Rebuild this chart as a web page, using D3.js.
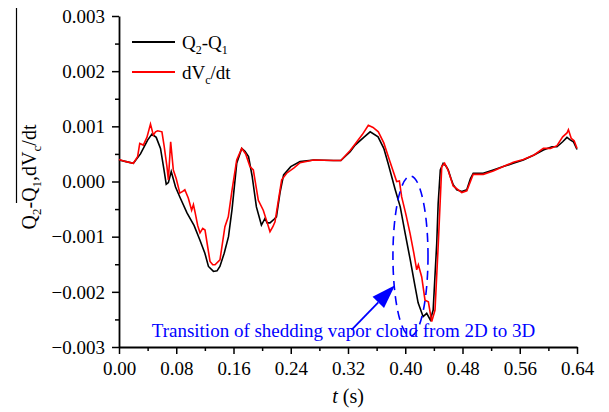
<!DOCTYPE html>
<html>
<head>
<meta charset="utf-8">
<script src="https://cdn.jsdelivr.net/npm/d3@7"></script>
<style>
  body { margin: 0; background: #fff; }
  text { font-family: "Liberation Serif", "Times New Roman", serif; }
</style>
</head>
<body>
<script>
// series: time (s) and volume rate values
var tBlack = [0.000,0.010,0.020,0.030,0.040,0.046,0.052,0.058,0.063,0.066,0.069,0.073,0.079,0.085,0.095,0.105,0.113,0.120,0.125,0.132,0.137,0.141,0.147,0.153,0.158,0.1645,0.1715,0.176,0.181,0.186,0.192,0.199,0.204,0.207,0.211,0.217,0.220,0.225,0.230,0.240,0.253,0.272,0.300,0.310,0.323,0.330,0.342,0.351,0.362,0.370,0.376,0.386,0.393,0.400,0.407,0.413,0.418,0.425,0.430,0.435,0.439,0.442,0.444,0.446,0.449,0.453,0.457,0.460,0.464,0.467,0.472,0.479,0.486,0.491,0.495,0.509,0.523,0.537,0.551,0.565,0.580,0.593,0.605,0.612,0.620,0.626,0.630,0.635,0.640];
var qBlack = [0.00039,0.00036,0.00033,0.00050,0.00075,0.00086,0.00080,0.00060,0.00020,-0.00005,-0.00002,0.00018,-0.00010,-0.00028,-0.00057,-0.00080,-0.00106,-0.00130,-0.00154,-0.00163,-0.00162,-0.00154,-0.00130,-0.00100,-0.00050,0.00033,0.00060,0.00055,0.00045,0.00010,-0.00046,-0.00079,-0.00067,-0.00075,-0.00075,-0.00068,-0.00064,-0.00020,0.00012,0.00027,0.00036,0.00039,0.00038,0.00038,0.00054,0.00066,0.00080,0.00090,0.00081,0.00060,0.00033,-0.00015,-0.00046,-0.00095,-0.00142,-0.00185,-0.00220,-0.00245,-0.00239,-0.00251,-0.00233,-0.00160,-0.00112,-0.00040,0.00021,0.00033,0.00028,0.00021,0.00005,-0.00006,-0.00015,-0.00018,-0.00015,0.00005,0.00015,0.00015,0.00021,0.00027,0.00033,0.00039,0.00048,0.00057,0.00063,0.00063,0.00072,0.00080,0.00076,0.00072,0.00058];

var tRed = [0.000,0.010,0.020,0.026,0.029,0.034,0.039,0.044,0.048,0.051,0.054,0.060,0.063,0.067,0.069,0.0722,0.0759,0.080,0.085,0.089,0.092,0.0968,0.1015,0.104,0.1062,0.110,0.1132,0.117,0.1202,0.1272,0.131,0.1342,0.1411,0.148,0.1527,0.158,0.1645,0.1715,0.177,0.183,0.1877,0.1947,0.2016,0.206,0.211,0.215,0.218,0.222,0.2273,0.2343,0.245,0.253,0.272,0.300,0.310,0.323,0.330,0.340,0.3484,0.355,0.3624,0.370,0.3787,0.388,0.3918,0.395,0.401,0.4067,0.412,0.416,0.4183,0.423,0.4276,0.4323,0.437,0.4416,0.4462,0.451,0.455,0.460,0.467,0.479,0.486,0.495,0.509,0.523,0.537,0.551,0.565,0.580,0.593,0.603,0.612,0.620,0.626,0.628,0.632,0.636,0.640];
var dvRed = [0.00040,0.00036,0.00033,0.00045,0.00069,0.00066,0.00080,0.00104,0.00084,0.00090,0.00092,0.00090,0.00065,0.00027,0.00003,0.00072,0.00021,0.00005,-0.00021,-0.00018,-0.00015,-0.00030,-0.00052,-0.00042,-0.00055,-0.00080,-0.00093,-0.00085,-0.00088,-0.00145,-0.00151,-0.00151,-0.00142,-0.00082,-0.00064,-0.00015,0.00039,0.00060,0.00050,0.00027,0.00021,-0.00034,-0.00052,-0.00070,-0.00091,-0.00082,-0.00073,-0.00040,0.00003,0.00015,0.00025,0.00034,0.00039,0.00038,0.00038,0.00056,0.00068,0.00085,0.00102,0.00098,0.00090,0.00070,0.00036,0.00000,0.00001,-0.00028,-0.00060,-0.00094,-0.00130,-0.00160,-0.00151,-0.00173,-0.00215,-0.00218,-0.00254,-0.00233,-0.00112,0.00027,0.00033,0.00020,-0.00008,-0.00020,-0.00017,0.00013,0.00013,0.00019,0.00027,0.00035,0.00040,0.00048,0.00060,0.00060,0.00065,0.00081,0.00088,0.00094,0.00078,0.00074,0.00060];

var xTicks = [0.00,0.08,0.16,0.24,0.32,0.40,0.48,0.56,0.64];
var yTicks = [-0.003,-0.002,-0.001,0.000,0.001,0.002,0.003];

// annotation: ellipse centre/radii and arrow, in data units
var ellipseC = [0.4073, -0.00135];
var ellipseR = [0.0245, 0.00145];
var arrowFrom = [0.325, -0.00269];
var arrowTo = [0.3857, -0.00188];
var noteAt = [0.0457, -0.00282];
var noteText = "Transition of shedding vapor cloud from 2D to 3D";

var margin = {top: 16, right: 32, bottom: 65, left: 119},
    W = 609, H = 412,
    w = W - margin.left - margin.right,
    h = H - margin.top - margin.bottom;

var svg = d3.select("body").append("svg")
  .attr("width", W)
  .attr("height", H);

var g = svg.append("g")
  .attr("transform", "translate(" + margin.left + "," + margin.top + ")");

var x = d3.scaleLinear().domain([0, 0.64]).range([0, w]);
var y = d3.scaleLinear().domain([-0.003, 0.003]).range([h, 0]);

// minor ticks first (no labels)
var xMinor = d3.range(0.04, 0.64, 0.08);
var yMinor = d3.range(-0.0025, 0.003, 0.001);

g.append("g")
  .attr("transform", "translate(0," + h + ")")
  .call(d3.axisBottom(x).tickValues(xMinor).tickSize(4).tickFormat(""))
  .call(a => a.select(".domain").remove())
  .selectAll("line").attr("stroke-width", 1.5);

g.append("g")
  .call(d3.axisLeft(y).tickValues(yMinor).tickSize(4).tickFormat(""))
  .call(a => a.select(".domain").remove())
  .selectAll("line").attr("stroke-width", 1.5);

// major axes
var xAxis = g.append("g")
  .attr("transform", "translate(0," + h + ")")
  .call(d3.axisBottom(x).tickValues(xTicks).tickSize(7).tickSizeOuter(0).tickFormat(d3.format(".2f")));

var yAxis = g.append("g")
  .call(d3.axisLeft(y).tickValues(yTicks).tickSize(7).tickSizeOuter(0).tickFormat(d3.format(".3f")));

[xAxis, yAxis].forEach(function(a) {
  a.select(".domain").attr("stroke-width", 1.8);
  a.selectAll(".tick line").attr("stroke-width", 1.5);
  a.selectAll("text")
    .attr("fill", "#000")
    .style("font-family", '"Liberation Serif", serif')
    .style("font-size", "19px");
});
xAxis.selectAll("text").attr("y", 15).attr("dy", "0.71em");
yAxis.selectAll("text").attr("x", -14).attr("dy", "0.33em");

// curves
var line = d3.line()
  .x(d => x(d[0]))
  .y(d => y(d[1]));

g.append("path")
  .datum(d3.zip(tBlack, qBlack))
  .attr("fill", "none")
  .attr("stroke", "#000")
  .attr("stroke-width", 1.6)
  .attr("d", line);

g.append("path")
  .datum(d3.zip(tRed, dvRed))
  .attr("fill", "none")
  .attr("stroke", "#ff0000")
  .attr("stroke-width", 1.6)
  .attr("d", line);

// dashed ellipse
g.append("ellipse")
  .attr("cx", x(ellipseC[0]))
  .attr("cy", y(ellipseC[1]))
  .attr("rx", x(ellipseR[0]) - x(0))
  .attr("ry", y(0) - y(ellipseR[1]))
  .attr("fill", "none")
  .attr("stroke", "#0000ff")
  .attr("stroke-width", 1.6)
  .attr("stroke-dasharray", "9,6");

// arrow: shaft plus a big filled head drawn by hand
var ax0 = x(arrowFrom[0]), ay0 = y(arrowFrom[1]),
    ax1 = x(arrowTo[0]), ay1 = y(arrowTo[1]);
var ang = Math.atan2(ay1 - ay0, ax1 - ax0),
    headLen = 24, headHalf = 8;
var bx = ax1 - headLen * Math.cos(ang), by = ay1 - headLen * Math.sin(ang);

g.append("line")
  .attr("x1", ax0).attr("y1", ay0)
  .attr("x2", bx).attr("y2", by)
  .attr("stroke", "#0000ff")
  .attr("stroke-width", 1.8);

g.append("path")
  .attr("d", "M" + ax1 + "," + ay1 +
    "L" + (bx + headHalf * Math.sin(ang)) + "," + (by - headHalf * Math.cos(ang)) +
    "L" + (bx - headHalf * Math.sin(ang)) + "," + (by + headHalf * Math.cos(ang)) + "Z")
  .attr("fill", "#0000ff");

g.append("text")
  .attr("x", x(noteAt[0]))
  .attr("y", y(noteAt[1]))
  .attr("fill", "#0000ff")
  .style("font-size", "19px")
  .text(noteText);

// legend
var legend = g.append("g").attr("transform", "translate(13,26)");
var items = [
  {c: "#000", parts: [["Q", 0], ["2", 1], ["-Q", 0], ["1", 1]]},
  {c: "#ff0000", parts: [["dV", 0], ["c", 1], ["/dt", 0]]}
];
items.forEach(function(it, i) {
  var row = legend.append("g").attr("transform", "translate(0," + i * 30 + ")");
  row.append("line")
    .attr("x1", 0).attr("x2", 43)
    .attr("stroke", it.c).attr("stroke-width", 1.8);
  var t = row.append("text").attr("x", 50).attr("y", 6.5).style("font-size", "19px");
  var sub = 0;
  it.parts.forEach(function(p) {
    var dy = (p[1] ? 5 : 0) - sub;
    sub = p[1] ? 5 : 0;
    t.append("tspan")
      .attr("dy", dy)
      .style("font-size", p[1] ? "12px" : "19px")
      .text(p[0]);
  });
});

// axis titles
var xt = svg.append("text")
  .attr("x", margin.left + w / 2)
  .attr("y", 403)
  .attr("text-anchor", "middle")
  .style("font-size", "20px");
xt.append("tspan").style("font-style", "italic").text("t");
xt.append("tspan").text(" (s)");

var yt = svg.append("text")
  .attr("transform", "translate(36,177) rotate(-90)")
  .attr("text-anchor", "middle")
  .style("font-size", "20px");
var yParts = [["Q", 0], ["2", 1], ["-Q", 0], ["1", 1], [",dV", 0], ["c", 1], ["/dt", 0]];
var ysub = 0;
yParts.forEach(function(p) {
  var dy = (p[1] ? 5 : 0) - ysub;
  ysub = p[1] ? 5 : 0;
  yt.append("tspan")
    .attr("dy", dy)
    .style("font-size", p[1] ? "13px" : "20px")
    .text(p[0]);
});

// stray overline beside the y title in the original figure
svg.append("line")
  .attr("x1", 16.5).attr("x2", 16.5)
  .attr("y1", 8).attr("y2", 203)
  .attr("stroke", "#000").attr("stroke-width", 1.2);
</script>
</body>
</html>
